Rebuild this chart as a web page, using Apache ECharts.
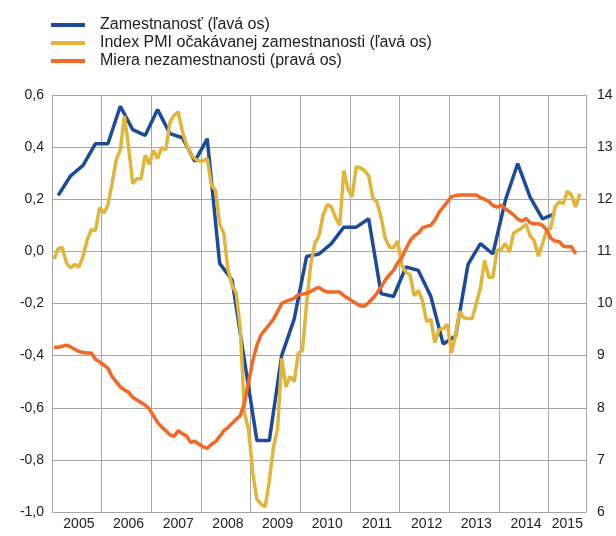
<!DOCTYPE html>
<html>
<head>
<meta charset="utf-8">
<script src="https://cdn.jsdelivr.net/npm/echarts@6/dist/echarts.min.js"></script>
<style>
  html, body { margin: 0; padding: 0; background: #fff; }
  #main { width: 616px; height: 536px; }
</style>
</head>
<body>
<div id="main"></div>
<script>
// months Jan 2005 .. Sep 2015
const years = [2005, 2006, 2007, 2008, 2009, 2010, 2011, 2012, 2013, 2014, 2015];
const lastMonthCount = 9;

// Zamestnanosť, quarterly 2005Q1 .. 2015Q1 (left axis)
const employment = [
  0.215, 0.29, 0.33, 0.413, 0.413, 0.557, 0.467, 0.445, 0.544, 0.452, 0.436, 0.345,
  0.432, -0.046, -0.11, -0.42, -0.726, -0.726, -0.399, -0.26, -0.02, -0.01, 0.03, 0.093,
  0.093, 0.125, -0.162, -0.173, -0.06, -0.073, -0.172, -0.355, -0.325, -0.05, 0.03, -0.01,
  0.195, 0.337, 0.208, 0.125, 0.145
];

// Index PMI očakávanej zamestnanosti, monthly (left axis)
const pmi = [
  -0.03, 0.01, 0.015, -0.045, -0.063, -0.05, -0.06, -0.02, 0.045, 0.083, 0.08, 0.168,
  0.147, 0.177, 0.26, 0.35, 0.39, 0.52, 0.40, 0.26, 0.279, 0.279, 0.369, 0.334,
  0.388, 0.356, 0.398, 0.39, 0.496, 0.522, 0.535, 0.46, 0.41, 0.372, 0.355, 0.347,
  0.347, 0.356, 0.255, 0.234, 0.106, 0.068, -0.07, -0.13, -0.16, -0.30, -0.62, -0.685,
  -0.85, -0.95, -0.97, -0.98, -0.88, -0.75, -0.68, -0.41, -0.52, -0.48, -0.50, -0.39,
  -0.38, -0.2, -0.05, 0.03, 0.06, 0.14, 0.18, 0.17, 0.13, 0.10, 0.31, 0.24,
  0.21, 0.325, 0.32, 0.31, 0.29, 0.205, 0.19, 0.13, 0.05, 0.017, 0.014, 0.04,
  -0.054, -0.08, -0.09, -0.17, -0.15, -0.19, -0.27, -0.26, -0.35, -0.30, -0.297, -0.28,
  -0.39, -0.32, -0.23, -0.255, -0.258, -0.258, -0.2, -0.14, -0.035, -0.10, -0.099, 0.004,
  0.007, 0.03, -0.003, 0.07, 0.08, 0.09, 0.105, 0.06, 0.04, -0.019, 0.03, 0.08,
  0.09, 0.17, 0.19, 0.183, 0.231, 0.215, 0.17, 0.221
];

// Miera nezamestnanosti, monthly (right axis)
const unemployment = [
  9.16, 9.16, 9.18, 9.2, 9.17, 9.12, 9.08, 9.06, 9.05, 9.05, 8.93, 8.88,
  8.82, 8.76, 8.6, 8.5, 8.4, 8.34, 8.3, 8.2, 8.15, 8.1, 8.05, 7.98,
  7.85, 7.72, 7.63, 7.56, 7.48, 7.45, 7.56, 7.5, 7.46, 7.33, 7.36, 7.3,
  7.25, 7.22, 7.3, 7.35, 7.45, 7.56, 7.62, 7.7, 7.78, 7.85, 8.1, 8.5,
  8.9, 9.2, 9.4, 9.5, 9.6, 9.7, 9.85, 10.0, 10.04, 10.07, 10.1, 10.17,
  10.18, 10.2, 10.23, 10.28, 10.31, 10.25, 10.22, 10.22, 10.22, 10.22, 10.15, 10.1,
  10.05, 10.0, 9.95, 9.95, 10.02, 10.1, 10.2, 10.32, 10.45, 10.55, 10.64, 10.78,
  10.88, 11.05, 11.2, 11.3, 11.35, 11.45, 11.48, 11.5, 11.6, 11.75, 11.85, 11.95,
  12.05, 12.07, 12.08, 12.08, 12.08, 12.08, 12.08, 12.03, 12.0, 11.96, 11.88, 11.85,
  11.89, 11.82, 11.76, 11.7, 11.62, 11.58, 11.63, 11.55, 11.53, 11.53, 11.5, 11.41,
  11.25, 11.2, 11.19, 11.1, 11.09, 11.09, 10.95
];

const months = [];
years.forEach((y, i) => {
  const n = i === years.length - 1 ? lastMonthCount : 12;
  for (let m = 1; m <= n; m++) months.push(y + '-' + m);
});

// quarterly values sit on the middle month of each quarter
const employmentData = months.map(() => null);
employment.forEach((v, q) => { employmentData[q * 3 + 1] = v; });

const font = '"Liberation Sans", Arial, sans-serif';
const gridColor = '#a6a6a6';
const labelIdx = (i) => (i % 12 === 6 && i < 120) || i === 124;

const chart = echarts.init(document.getElementById('main'));
chart.setOption({
  animation: false,
  textStyle: { fontFamily: font },
  legend: {
    orient: 'vertical',
    left: 46,
    top: 12,
    icon: 'rect',
    itemWidth: 34,
    itemHeight: 4,
    itemGap: 2,
    textStyle: { fontSize: 16, color: '#222', fontFamily: font, padding: [0, 0, 0, 10] },
    data: ['Zamestnanosť (ľavá os)', 'Index PMI očakávanej zamestnanosti (ľavá os)', 'Miera nezamestnanosti (pravá os)']
  },
  grid: { left: 52, right: 30, top: 95, bottom: 24 },
  xAxis: {
    type: 'category',
    data: months,
    boundaryGap: true,
    axisLine: { lineStyle: { color: gridColor } },
    axisTick: { show: true, length: 6, interval: (i) => i % 12 === 0, lineStyle: { color: gridColor } },
    splitLine: { show: true, interval: (i) => i % 12 === 0, lineStyle: { color: gridColor, width: 1 } },
    axisLabel: {
      interval: labelIdx,
      margin: 5,
      fontSize: 14,
      color: '#222',
      formatter: (v) => v.split('-')[0]
    }
  },
  yAxis: [
    {
      type: 'value',
      min: -1, max: 0.6, interval: 0.2,
      axisLine: { show: true, lineStyle: { color: gridColor } },
      axisTick: { show: false },
      splitLine: { lineStyle: { color: gridColor, width: 1 } },
      axisLabel: {
        fontSize: 14, color: '#222', margin: 8,
        formatter: (v) => v.toFixed(1).replace('.', ',')
      }
    },
    {
      type: 'value',
      min: 6, max: 14, interval: 1,
      axisLine: { show: true, lineStyle: { color: gridColor } },
      axisTick: { show: false },
      splitLine: { show: false },
      axisLabel: { fontSize: 14, color: '#222', margin: 11 }
    }
  ],
  series: [
    {
      name: 'Zamestnanosť (ľavá os)',
      type: 'line',
      data: employmentData,
      connectNulls: true,
      symbol: 'none',
      lineStyle: { width: 3.5, color: '#1c4b9b' },
      itemStyle: { color: '#1c4b9b' }
    },
    {
      name: 'Index PMI očakávanej zamestnanosti (ľavá os)',
      type: 'line',
      data: pmi,
      symbol: 'none',
      lineStyle: { width: 3.5, color: '#e2b438' },
      itemStyle: { color: '#e2b438' }
    },
    {
      name: 'Miera nezamestnanosti (pravá os)',
      type: 'line',
      yAxisIndex: 1,
      data: unemployment,
      symbol: 'none',
      lineStyle: { width: 3.5, color: '#f36823' },
      itemStyle: { color: '#f36823' }
    }
  ]
});
</script>
</body>
</html>
